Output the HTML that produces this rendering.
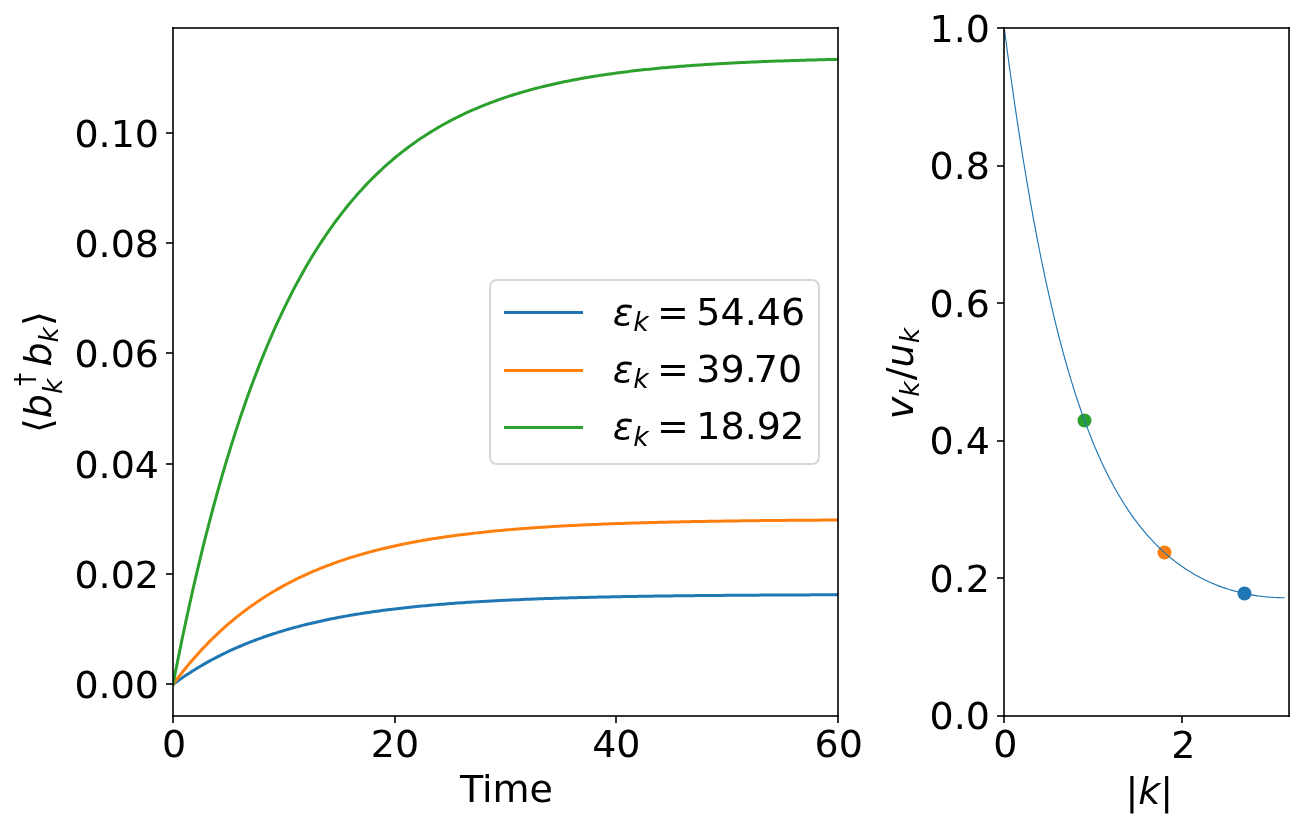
<!DOCTYPE html>
<html lang="en">
<head>
<meta charset="utf-8">
<title>Quasiparticle occupation dynamics</title>
<style>
html,body{margin:0;padding:0;background:#fff;overflow:hidden}
svg{display:block}
text{font-family:"DejaVu Sans","Liberation Sans",sans-serif;font-size:38px;fill:#000;font-kerning:normal}
.i{font-style:oblique}
.s{font-size:26.6px}
.sp{fill:none;stroke:#000;stroke-width:2;stroke-opacity:0.8;stroke-linecap:butt}
.tk{stroke:#000;stroke-width:2;stroke-opacity:0.8}
.ln{fill:none;stroke-width:3;stroke-linecap:square;stroke-linejoin:round}
</style>
</head>
<body>
<svg width="1303" height="829" viewBox="0 0 1303 829">
<rect width="1303" height="829" fill="#fff"/>
<defs><clipPath id="c1"><rect x="173" y="28" width="665" height="688"/></clipPath><clipPath id="c2"><rect x="1004" y="28" width="285" height="688"/></clipPath></defs>
<g id="axes-left">
<g clip-path="url(#c1)">
<path class="ln" stroke="#1f77b4" d="M173 684.45 L175.22 682.82 L177.43 681.22 L179.65 679.65 L181.87 678.11 L184.08 676.6 L186.3 675.11 L188.52 673.65 L190.73 672.22 L192.95 670.81 L195.17 669.43 L197.38 668.08 L199.6 666.74 L201.82 665.44 L204.03 664.15 L206.25 662.89 L208.47 661.65 L210.68 660.44 L212.9 659.25 L215.12 658.07 L217.33 656.92 L219.55 655.79 L221.77 654.68 L223.98 653.59 L226.2 652.52 L228.42 651.47 L230.63 650.44 L232.85 649.43 L235.07 648.43 L237.28 647.46 L239.5 646.5 L241.72 645.56 L243.93 644.63 L246.15 643.72 L248.37 642.83 L250.58 641.96 L252.8 641.1 L255.02 640.25 L257.23 639.43 L259.45 638.61 L261.67 637.81 L263.88 637.03 L266.1 636.26 L268.32 635.5 L270.53 634.76 L272.75 634.03 L274.97 633.31 L277.18 632.61 L279.4 631.92 L281.62 631.24 L283.83 630.58 L286.05 629.92 L288.27 629.28 L290.48 628.65 L292.7 628.03 L294.92 627.42 L297.13 626.83 L299.35 626.24 L301.57 625.66 L303.78 625.1 L306 624.54 L308.22 624 L310.43 623.46 L312.65 622.94 L314.87 622.42 L317.08 621.92 L319.3 621.42 L321.52 620.93 L323.73 620.45 L325.95 619.98 L328.17 619.52 L330.38 619.06 L332.6 618.62 L334.82 618.18 L337.03 617.75 L339.25 617.33 L341.47 616.92 L343.68 616.51 L345.9 616.11 L348.12 615.72 L350.33 615.33 L352.55 614.95 L354.77 614.58 L356.98 614.22 L359.2 613.86 L361.42 613.51 L363.63 613.16 L365.85 612.82 L368.07 612.49 L370.28 612.16 L372.5 611.84 L374.72 611.53 L376.93 611.22 L379.15 610.91 L381.37 610.61 L383.58 610.32 L385.8 610.03 L388.02 609.75 L390.23 609.47 L392.45 609.2 L394.67 608.93 L396.88 608.67 L399.1 608.41 L401.32 608.16 L403.53 607.91 L405.75 607.67 L407.97 607.43 L410.18 607.19 L412.4 606.96 L414.62 606.73 L416.83 606.51 L419.05 606.29 L421.27 606.08 L423.48 605.87 L425.7 605.66 L427.92 605.46 L430.13 605.26 L432.35 605.06 L434.57 604.87 L436.78 604.68 L439 604.49 L441.22 604.31 L443.43 604.13 L445.65 603.96 L447.87 603.78 L450.08 603.61 L452.3 603.45 L454.52 603.28 L456.73 603.12 L458.95 602.97 L461.17 602.81 L463.38 602.66 L465.6 602.51 L467.82 602.36 L470.03 602.22 L472.25 602.08 L474.47 601.94 L476.68 601.8 L478.9 601.67 L481.12 601.54 L483.33 601.41 L485.55 601.28 L487.77 601.16 L489.98 601.04 L492.2 600.92 L494.42 600.8 L496.63 600.68 L498.85 600.57 L501.07 600.46 L503.28 600.35 L505.5 600.24 L507.72 600.14 L509.93 600.03 L512.15 599.93 L514.37 599.83 L516.58 599.73 L518.8 599.64 L521.02 599.54 L523.23 599.45 L525.45 599.36 L527.67 599.27 L529.88 599.18 L532.1 599.09 L534.32 599.01 L536.53 598.93 L538.75 598.84 L540.97 598.76 L543.18 598.68 L545.4 598.61 L547.62 598.53 L549.83 598.46 L552.05 598.38 L554.27 598.31 L556.48 598.24 L558.7 598.17 L560.92 598.1 L563.13 598.04 L565.35 597.97 L567.57 597.91 L569.78 597.84 L572 597.78 L574.22 597.72 L576.43 597.66 L578.65 597.6 L580.87 597.54 L583.08 597.49 L585.3 597.43 L587.52 597.38 L589.73 597.32 L591.95 597.27 L594.17 597.22 L596.38 597.17 L598.6 597.12 L600.82 597.07 L603.03 597.02 L605.25 596.97 L607.47 596.93 L609.68 596.88 L611.9 596.84 L614.12 596.79 L616.33 596.75 L618.55 596.71 L620.77 596.66 L622.98 596.62 L625.2 596.58 L627.42 596.54 L629.63 596.51 L631.85 596.47 L634.07 596.43 L636.28 596.39 L638.5 596.36 L640.72 596.32 L642.93 596.29 L645.15 596.25 L647.37 596.22 L649.58 596.19 L651.8 596.15 L654.02 596.12 L656.23 596.09 L658.45 596.06 L660.67 596.03 L662.88 596 L665.1 595.97 L667.32 595.94 L669.53 595.92 L671.75 595.89 L673.97 595.86 L676.18 595.84 L678.4 595.81 L680.62 595.79 L682.83 595.76 L685.05 595.74 L687.27 595.71 L689.48 595.69 L691.7 595.66 L693.92 595.64 L696.13 595.62 L698.35 595.6 L700.57 595.58 L702.78 595.55 L705 595.53 L707.22 595.51 L709.43 595.49 L711.65 595.47 L713.87 595.45 L716.08 595.44 L718.3 595.42 L720.52 595.4 L722.73 595.38 L724.95 595.36 L727.17 595.35 L729.38 595.33 L731.6 595.31 L733.82 595.3 L736.03 595.28 L738.25 595.26 L740.47 595.25 L742.68 595.23 L744.9 595.22 L747.12 595.2 L749.33 595.19 L751.55 595.17 L753.77 595.16 L755.98 595.15 L758.2 595.13 L760.42 595.12 L762.63 595.11 L764.85 595.09 L767.07 595.08 L769.28 595.07 L771.5 595.06 L773.72 595.05 L775.93 595.03 L778.15 595.02 L780.37 595.01 L782.58 595 L784.8 594.99 L787.02 594.98 L789.23 594.97 L791.45 594.96 L793.67 594.95 L795.88 594.94 L798.1 594.93 L800.32 594.92 L802.53 594.91 L804.75 594.9 L806.97 594.89 L809.18 594.88 L811.4 594.87 L813.62 594.87 L815.83 594.86 L818.05 594.85 L820.27 594.84 L822.48 594.83 L824.7 594.83 L826.92 594.82 L829.13 594.81 L831.35 594.8 L833.57 594.8 L835.78 594.79 L838 594.78"/>
<path class="ln" stroke="#ff7f0e" d="M173 684.45 L175.22 681.46 L177.43 678.53 L179.65 675.65 L181.87 672.83 L184.08 670.05 L186.3 667.33 L188.52 664.65 L190.73 662.02 L192.95 659.45 L195.17 656.91 L197.38 654.43 L199.6 651.98 L201.82 649.58 L204.03 647.23 L206.25 644.92 L208.47 642.65 L210.68 640.42 L212.9 638.23 L215.12 636.08 L217.33 633.97 L219.55 631.9 L221.77 629.86 L223.98 627.86 L226.2 625.9 L228.42 623.98 L230.63 622.08 L232.85 620.23 L235.07 618.4 L237.28 616.61 L239.5 614.85 L241.72 613.13 L243.93 611.43 L246.15 609.76 L248.37 608.13 L250.58 606.52 L252.8 604.95 L255.02 603.4 L257.23 601.88 L259.45 600.39 L261.67 598.92 L263.88 597.48 L266.1 596.07 L268.32 594.68 L270.53 593.32 L272.75 591.98 L274.97 590.67 L277.18 589.38 L279.4 588.11 L281.62 586.87 L283.83 585.65 L286.05 584.45 L288.27 583.27 L290.48 582.12 L292.7 580.98 L294.92 579.87 L297.13 578.77 L299.35 577.7 L301.57 576.64 L303.78 575.61 L306 574.59 L308.22 573.59 L310.43 572.61 L312.65 571.64 L314.87 570.7 L317.08 569.77 L319.3 568.86 L321.52 567.96 L323.73 567.08 L325.95 566.22 L328.17 565.37 L330.38 564.54 L332.6 563.72 L334.82 562.92 L337.03 562.13 L339.25 561.36 L341.47 560.6 L343.68 559.85 L345.9 559.12 L348.12 558.4 L350.33 557.69 L352.55 557 L354.77 556.32 L356.98 555.65 L359.2 554.99 L361.42 554.35 L363.63 553.71 L365.85 553.09 L368.07 552.48 L370.28 551.88 L372.5 551.29 L374.72 550.71 L376.93 550.15 L379.15 549.59 L381.37 549.04 L383.58 548.5 L385.8 547.98 L388.02 547.46 L390.23 546.95 L392.45 546.45 L394.67 545.96 L396.88 545.48 L399.1 545.01 L401.32 544.54 L403.53 544.08 L405.75 543.64 L407.97 543.2 L410.18 542.77 L412.4 542.34 L414.62 541.93 L416.83 541.52 L419.05 541.12 L421.27 540.72 L423.48 540.33 L425.7 539.95 L427.92 539.58 L430.13 539.21 L432.35 538.85 L434.57 538.5 L436.78 538.15 L439 537.81 L441.22 537.48 L443.43 537.15 L445.65 536.83 L447.87 536.51 L450.08 536.2 L452.3 535.9 L454.52 535.6 L456.73 535.3 L458.95 535.01 L461.17 534.73 L463.38 534.45 L465.6 534.18 L467.82 533.91 L470.03 533.64 L472.25 533.39 L474.47 533.13 L476.68 532.88 L478.9 532.64 L481.12 532.39 L483.33 532.16 L485.55 531.93 L487.77 531.7 L489.98 531.47 L492.2 531.25 L494.42 531.04 L496.63 530.83 L498.85 530.62 L501.07 530.41 L503.28 530.21 L505.5 530.02 L507.72 529.82 L509.93 529.63 L512.15 529.45 L514.37 529.26 L516.58 529.08 L518.8 528.91 L521.02 528.73 L523.23 528.56 L525.45 528.4 L527.67 528.23 L529.88 528.07 L532.1 527.91 L534.32 527.76 L536.53 527.6 L538.75 527.45 L540.97 527.31 L543.18 527.16 L545.4 527.02 L547.62 526.88 L549.83 526.74 L552.05 526.61 L554.27 526.48 L556.48 526.35 L558.7 526.22 L560.92 526.1 L563.13 525.97 L565.35 525.85 L567.57 525.73 L569.78 525.62 L572 525.5 L574.22 525.39 L576.43 525.28 L578.65 525.17 L580.87 525.07 L583.08 524.96 L585.3 524.86 L587.52 524.76 L589.73 524.66 L591.95 524.57 L594.17 524.47 L596.38 524.38 L598.6 524.29 L600.82 524.2 L603.03 524.11 L605.25 524.02 L607.47 523.94 L609.68 523.85 L611.9 523.77 L614.12 523.69 L616.33 523.61 L618.55 523.53 L620.77 523.46 L622.98 523.38 L625.2 523.31 L627.42 523.24 L629.63 523.17 L631.85 523.1 L634.07 523.03 L636.28 522.96 L638.5 522.89 L640.72 522.83 L642.93 522.77 L645.15 522.7 L647.37 522.64 L649.58 522.58 L651.8 522.52 L654.02 522.46 L656.23 522.41 L658.45 522.35 L660.67 522.3 L662.88 522.24 L665.1 522.19 L667.32 522.14 L669.53 522.09 L671.75 522.04 L673.97 521.99 L676.18 521.94 L678.4 521.89 L680.62 521.84 L682.83 521.8 L685.05 521.75 L687.27 521.71 L689.48 521.67 L691.7 521.62 L693.92 521.58 L696.13 521.54 L698.35 521.5 L700.57 521.46 L702.78 521.42 L705 521.38 L707.22 521.35 L709.43 521.31 L711.65 521.27 L713.87 521.24 L716.08 521.2 L718.3 521.17 L720.52 521.14 L722.73 521.1 L724.95 521.07 L727.17 521.04 L729.38 521.01 L731.6 520.98 L733.82 520.95 L736.03 520.92 L738.25 520.89 L740.47 520.86 L742.68 520.83 L744.9 520.8 L747.12 520.78 L749.33 520.75 L751.55 520.72 L753.77 520.7 L755.98 520.67 L758.2 520.65 L760.42 520.62 L762.63 520.6 L764.85 520.58 L767.07 520.55 L769.28 520.53 L771.5 520.51 L773.72 520.49 L775.93 520.47 L778.15 520.45 L780.37 520.43 L782.58 520.41 L784.8 520.39 L787.02 520.37 L789.23 520.35 L791.45 520.33 L793.67 520.31 L795.88 520.29 L798.1 520.27 L800.32 520.26 L802.53 520.24 L804.75 520.22 L806.97 520.21 L809.18 520.19 L811.4 520.17 L813.62 520.16 L815.83 520.14 L818.05 520.13 L820.27 520.11 L822.48 520.1 L824.7 520.08 L826.92 520.07 L829.13 520.06 L831.35 520.04 L833.57 520.03 L835.78 520.02 L838 520"/>
<path class="ln" stroke="#2ca02c" d="M173 684.45 L175.22 673.1 L177.43 661.96 L179.65 651.02 L181.87 640.28 L184.08 629.73 L186.3 619.37 L188.52 609.2 L190.73 599.22 L192.95 589.41 L195.17 579.78 L197.38 570.33 L199.6 561.05 L201.82 551.93 L204.03 542.98 L206.25 534.19 L208.47 525.56 L210.68 517.09 L212.9 508.76 L215.12 500.59 L217.33 492.57 L219.55 484.69 L221.77 476.96 L223.98 469.36 L226.2 461.9 L228.42 454.58 L230.63 447.39 L232.85 440.33 L235.07 433.39 L237.28 426.59 L239.5 419.9 L241.72 413.34 L243.93 406.89 L246.15 400.56 L248.37 394.35 L250.58 388.24 L252.8 382.25 L255.02 376.37 L257.23 370.59 L259.45 364.92 L261.67 359.35 L263.88 353.88 L266.1 348.5 L268.32 343.23 L270.53 338.05 L272.75 332.97 L274.97 327.97 L277.18 323.07 L279.4 318.26 L281.62 313.53 L283.83 308.89 L286.05 304.33 L288.27 299.85 L290.48 295.46 L292.7 291.14 L294.92 286.91 L297.13 282.75 L299.35 278.66 L301.57 274.65 L303.78 270.71 L306 266.84 L308.22 263.04 L310.43 259.32 L312.65 255.65 L314.87 252.06 L317.08 248.53 L319.3 245.06 L321.52 241.66 L323.73 238.31 L325.95 235.03 L328.17 231.81 L330.38 228.64 L332.6 225.54 L334.82 222.48 L337.03 219.49 L339.25 216.55 L341.47 213.66 L343.68 210.82 L345.9 208.04 L348.12 205.3 L350.33 202.61 L352.55 199.98 L354.77 197.39 L356.98 194.85 L359.2 192.35 L361.42 189.9 L363.63 187.49 L365.85 185.13 L368.07 182.81 L370.28 180.53 L372.5 178.29 L374.72 176.09 L376.93 173.93 L379.15 171.81 L381.37 169.73 L383.58 167.69 L385.8 165.69 L388.02 163.72 L390.23 161.78 L392.45 159.88 L394.67 158.02 L396.88 156.19 L399.1 154.39 L401.32 152.62 L403.53 150.89 L405.75 149.19 L407.97 147.52 L410.18 145.88 L412.4 144.26 L414.62 142.68 L416.83 141.13 L419.05 139.6 L421.27 138.1 L423.48 136.63 L425.7 135.19 L427.92 133.77 L430.13 132.38 L432.35 131.01 L434.57 129.67 L436.78 128.35 L439 127.05 L441.22 125.78 L443.43 124.53 L445.65 123.31 L447.87 122.1 L450.08 120.92 L452.3 119.76 L454.52 118.62 L456.73 117.5 L458.95 116.41 L461.17 115.33 L463.38 114.27 L465.6 113.23 L467.82 112.21 L470.03 111.2 L472.25 110.22 L474.47 109.25 L476.68 108.3 L478.9 107.37 L481.12 106.45 L483.33 105.55 L485.55 104.67 L487.77 103.8 L489.98 102.95 L492.2 102.12 L494.42 101.3 L496.63 100.49 L498.85 99.7 L501.07 98.92 L503.28 98.16 L505.5 97.41 L507.72 96.68 L509.93 95.95 L512.15 95.24 L514.37 94.55 L516.58 93.86 L518.8 93.19 L521.02 92.53 L523.23 91.89 L525.45 91.25 L527.67 90.63 L529.88 90.01 L532.1 89.41 L534.32 88.82 L536.53 88.24 L538.75 87.67 L540.97 87.11 L543.18 86.56 L545.4 86.02 L547.62 85.49 L549.83 84.97 L552.05 84.46 L554.27 83.96 L556.48 83.47 L558.7 82.98 L560.92 82.51 L563.13 82.04 L565.35 81.59 L567.57 81.14 L569.78 80.69 L572 80.26 L574.22 79.84 L576.43 79.42 L578.65 79.01 L580.87 78.6 L583.08 78.21 L585.3 77.82 L587.52 77.44 L589.73 77.06 L591.95 76.7 L594.17 76.34 L596.38 75.98 L598.6 75.63 L600.82 75.29 L603.03 74.96 L605.25 74.63 L607.47 74.3 L609.68 73.98 L611.9 73.67 L614.12 73.37 L616.33 73.06 L618.55 72.77 L620.77 72.48 L622.98 72.19 L625.2 71.91 L627.42 71.64 L629.63 71.37 L631.85 71.1 L634.07 70.84 L636.28 70.59 L638.5 70.34 L640.72 70.09 L642.93 69.85 L645.15 69.61 L647.37 69.38 L649.58 69.15 L651.8 68.93 L654.02 68.71 L656.23 68.49 L658.45 68.28 L660.67 68.07 L662.88 67.86 L665.1 67.66 L667.32 67.46 L669.53 67.27 L671.75 67.08 L673.97 66.89 L676.18 66.71 L678.4 66.53 L680.62 66.35 L682.83 66.17 L685.05 66 L687.27 65.84 L689.48 65.67 L691.7 65.51 L693.92 65.35 L696.13 65.19 L698.35 65.04 L700.57 64.89 L702.78 64.74 L705 64.6 L707.22 64.46 L709.43 64.32 L711.65 64.18 L713.87 64.04 L716.08 63.91 L718.3 63.78 L720.52 63.65 L722.73 63.53 L724.95 63.4 L727.17 63.28 L729.38 63.16 L731.6 63.05 L733.82 62.93 L736.03 62.82 L738.25 62.71 L740.47 62.6 L742.68 62.5 L744.9 62.39 L747.12 62.29 L749.33 62.19 L751.55 62.09 L753.77 61.99 L755.98 61.9 L758.2 61.8 L760.42 61.71 L762.63 61.62 L764.85 61.53 L767.07 61.45 L769.28 61.36 L771.5 61.28 L773.72 61.19 L775.93 61.11 L778.15 61.03 L780.37 60.96 L782.58 60.88 L784.8 60.8 L787.02 60.73 L789.23 60.66 L791.45 60.59 L793.67 60.52 L795.88 60.45 L798.1 60.38 L800.32 60.31 L802.53 60.25 L804.75 60.18 L806.97 60.12 L809.18 60.06 L811.4 60 L813.62 59.94 L815.83 59.88 L818.05 59.83 L820.27 59.77 L822.48 59.71 L824.7 59.66 L826.92 59.61 L829.13 59.55 L831.35 59.5 L833.57 59.45 L835.78 59.4 L838 59.35"/>
</g>
<line class="tk" x1="173" y1="716" x2="173" y2="723"/><text x="174" y="756.87" text-anchor="middle">0</text>
<line class="tk" x1="395" y1="716" x2="395" y2="723"/><text x="394.97" y="756.87" text-anchor="middle">20</text>
<line class="tk" x1="616" y1="716" x2="616" y2="723"/><text x="616.33" y="756.87" text-anchor="middle">40</text>
<line class="tk" x1="838" y1="716" x2="838" y2="723"/><text x="838.8" y="756.87" text-anchor="middle">60</text>
<line class="tk" x1="166" y1="684" x2="173" y2="684"/><text x="159" y="698" text-anchor="end">0.00</text>
<line class="tk" x1="166" y1="574" x2="173" y2="574"/><text x="159" y="588" text-anchor="end">0.02</text>
<line class="tk" x1="166" y1="464" x2="173" y2="464"/><text x="159" y="478" text-anchor="end">0.04</text>
<line class="tk" x1="166" y1="353" x2="173" y2="353"/><text x="159" y="367" text-anchor="end">0.06</text>
<line class="tk" x1="166" y1="243" x2="173" y2="243"/><text x="159" y="257" text-anchor="end">0.08</text>
<line class="tk" x1="166" y1="133" x2="173" y2="133"/><text x="159" y="147" text-anchor="end">0.10</text>
<path class="sp" d="M173 717V27"/><path class="sp" d="M838 717V27"/><path class="sp" d="M172 716H839"/><path class="sp" d="M172 28H839"/>
<text x="506.4" y="801.65" text-anchor="middle">Time</text>
<g transform="translate(52.85 432.99) rotate(-90)"><text><tspan x="0" y="-1.49">⟨</tspan><tspan class="i" x="14.83" y="-1.49">b</tspan><tspan class="i s" x="38.95" y="8.9">k</tspan><tspan class="s" x="46.96" y="-18.62">†</tspan><tspan class="i" x="66.48" y="-1.49">b</tspan><tspan class="i s" x="90.6" y="4.75">k</tspan><tspan x="107.04" y="-1.49">⟩</tspan></text></g>
<g id="legend">
<path d="M497.6 464H811.4Q819 464 819 456.4V287.6Q819 280 811.4 280H497.6Q490 280 490 287.6V456.4Q490 464 497.6 464Z" fill="#fff" fill-opacity="0.8" stroke="#ccc" stroke-opacity="0.8" stroke-width="2"/>
<path class="ln" style="stroke-linecap:butt" stroke="#1f77b4" d="M504 312.5H583"/>
<g transform="translate(612.7 326.71)"><text><tspan class="i" x="0" y="-1.78">ε</tspan><tspan class="i s" x="20.54" y="4.45">k</tspan><tspan x="44.39" y="-1.78">=</tspan><tspan x="83.63 107.81 131.98 144.06 168.24" y="-1.78">54.46</tspan></text></g>
<path class="ln" style="stroke-linecap:butt" stroke="#ff7f0e" d="M504 370.5H583"/>
<g transform="translate(612.7 383.49)"><text><tspan class="i" x="0" y="-1.78">ε</tspan><tspan class="i s" x="20.54" y="4.45">k</tspan><tspan x="44.39" y="-1.78">=</tspan><tspan x="83.63 107.81 131.98 141.06 165.24" y="-1.78">39.70</tspan></text></g>
<path class="ln" style="stroke-linecap:butt" stroke="#2ca02c" d="M504 427.5H583"/>
<g transform="translate(612.7 441.26)"><text><tspan class="i" x="0" y="-1.78">ε</tspan><tspan class="i s" x="20.54" y="4.45">k</tspan><tspan x="44.39" y="-1.78">=</tspan><tspan x="83.63 107.81 131.98 144.06 167.49" y="-1.78">18.92</tspan></text></g>
</g>
</g>
<g id="axes-right">
<g clip-path="url(#c2)">
<circle cx="1244.5" cy="593.5" r="6" fill="#1f77b4" stroke="#1f77b4" stroke-width="2"/>
<circle cx="1164.5" cy="552.5" r="6" fill="#ff7f0e" stroke="#ff7f0e" stroke-width="2"/>
<circle cx="1084.5" cy="420.5" r="6" fill="#2ca02c" stroke="#2ca02c" stroke-width="2"/>
<path class="ln" style="stroke-width:1.15" stroke="#1f77b4" d="M1004.27 28.1 L1005.68 38.87 L1007.08 49.47 L1008.49 59.9 L1009.89 70.16 L1011.3 80.26 L1012.71 90.2 L1014.11 99.97 L1015.52 109.58 L1016.92 119.03 L1018.33 128.32 L1019.74 137.46 L1021.14 146.45 L1022.55 155.28 L1023.95 163.96 L1025.36 172.49 L1026.77 180.87 L1028.17 189.11 L1029.58 197.2 L1030.98 205.15 L1032.39 212.97 L1033.8 220.64 L1035.2 228.18 L1036.61 235.58 L1038.01 242.85 L1039.42 249.99 L1040.83 257 L1042.23 263.89 L1043.64 270.64 L1045.04 277.28 L1046.45 283.79 L1047.86 290.18 L1049.26 296.46 L1050.67 302.62 L1052.07 308.67 L1053.48 314.6 L1054.89 320.42 L1056.29 326.13 L1057.7 331.74 L1059.1 337.24 L1060.51 342.64 L1061.92 347.94 L1063.32 353.13 L1064.73 358.23 L1066.13 363.23 L1067.54 368.14 L1068.95 372.95 L1070.35 377.67 L1071.76 382.3 L1073.17 386.84 L1074.57 391.3 L1075.98 395.67 L1077.38 399.95 L1078.79 404.16 L1080.2 408.28 L1081.6 412.33 L1083.01 416.29 L1084.41 420.18 L1085.82 424 L1087.23 427.74 L1088.63 431.41 L1090.04 435.01 L1091.44 438.54 L1092.85 442 L1094.26 445.39 L1095.66 448.72 L1097.07 451.99 L1098.47 455.19 L1099.88 458.33 L1101.29 461.41 L1102.69 464.42 L1104.1 467.39 L1105.5 470.29 L1106.91 473.14 L1108.32 475.93 L1109.72 478.67 L1111.13 481.35 L1112.53 483.99 L1113.94 486.57 L1115.35 489.1 L1116.75 491.58 L1118.16 494.02 L1119.56 496.41 L1120.97 498.75 L1122.38 501.05 L1123.78 503.3 L1125.19 505.51 L1126.59 507.67 L1128 509.8 L1129.41 511.88 L1130.81 513.92 L1132.22 515.93 L1133.62 517.89 L1135.03 519.82 L1136.44 521.71 L1137.84 523.56 L1139.25 525.37 L1140.65 527.16 L1142.06 528.9 L1143.47 530.61 L1144.87 532.29 L1146.28 533.94 L1147.68 535.55 L1149.09 537.14 L1150.5 538.69 L1151.9 540.21 L1153.31 541.7 L1154.71 543.17 L1156.12 544.6 L1157.53 546.01 L1158.93 547.39 L1160.34 548.74 L1161.74 550.06 L1163.15 551.36 L1164.56 552.63 L1165.96 553.88 L1167.37 555.1 L1168.77 556.3 L1170.18 557.48 L1171.59 558.63 L1172.99 559.75 L1174.4 560.86 L1175.8 561.94 L1177.21 563 L1178.62 564.04 L1180.02 565.06 L1181.43 566.06 L1182.83 567.03 L1184.24 567.99 L1185.65 568.92 L1187.05 569.84 L1188.46 570.74 L1189.86 571.61 L1191.27 572.47 L1192.68 573.31 L1194.08 574.14 L1195.49 574.94 L1196.89 575.73 L1198.3 576.5 L1199.71 577.25 L1201.11 577.99 L1202.52 578.71 L1203.92 579.41 L1205.33 580.1 L1206.74 580.77 L1208.14 581.43 L1209.55 582.07 L1210.96 582.69 L1212.36 583.3 L1213.77 583.9 L1215.17 584.48 L1216.58 585.05 L1217.99 585.6 L1219.39 586.13 L1220.8 586.66 L1222.2 587.17 L1223.61 587.66 L1225.02 588.15 L1226.42 588.62 L1227.83 589.07 L1229.23 589.52 L1230.64 589.95 L1232.05 590.37 L1233.45 590.77 L1234.86 591.16 L1236.26 591.54 L1237.67 591.91 L1239.08 592.27 L1240.48 592.61 L1241.89 592.94 L1243.29 593.26 L1244.7 593.57 L1246.11 593.87 L1247.51 594.15 L1248.92 594.43 L1250.32 594.69 L1251.73 594.94 L1253.14 595.18 L1254.54 595.41 L1255.95 595.63 L1257.35 595.83 L1258.76 596.03 L1260.17 596.21 L1261.57 596.39 L1262.98 596.55 L1264.38 596.7 L1265.79 596.84 L1267.2 596.98 L1268.6 597.1 L1270.01 597.21 L1271.41 597.3 L1272.82 597.39 L1274.23 597.47 L1275.63 597.54 L1277.04 597.6 L1278.44 597.64 L1279.85 597.68 L1281.26 597.71 L1282.66 597.72 L1284.07 597.73"/>
</g>
<line class="tk" x1="1004" y1="716" x2="1004" y2="723"/><text x="1005.27" y="756.87" text-anchor="middle">0</text>
<line class="tk" x1="1182" y1="716" x2="1182" y2="723"/><text x="1183.39" y="757.87" text-anchor="middle">2</text>
<line class="tk" x1="997" y1="716" x2="1004" y2="716"/><text x="990" y="729.14" text-anchor="end">0.0</text>
<line class="tk" x1="997" y1="578" x2="1004" y2="578"/><text x="990" y="591.62" text-anchor="end">0.2</text>
<line class="tk" x1="997" y1="441" x2="1004" y2="441"/><text x="990" y="454.1" text-anchor="end">0.4</text>
<line class="tk" x1="997" y1="303" x2="1004" y2="303"/><text x="990" y="316.58" text-anchor="end">0.6</text>
<line class="tk" x1="997" y1="166" x2="1004" y2="166"/><text x="990" y="179.06" text-anchor="end">0.8</text>
<line class="tk" x1="997" y1="28" x2="1004" y2="28"/><text x="990" y="41.54" text-anchor="end">1.0</text>
<path class="sp" d="M1004 717V27"/><path class="sp" d="M1289 717V27"/><path class="sp" d="M1003 716H1290"/><path class="sp" d="M1003 28H1290"/>
<g transform="translate(1125.4 805.04)"><text><tspan x="0" y="-0.97">|</tspan><tspan class="i" x="12.8" y="-0.97">k</tspan><tspan x="34.81" y="-0.97">|</tspan></text></g>
<g transform="translate(912.87 419.17) rotate(-90)"><text><tspan class="i" x="0" y="-0.31">v</tspan><tspan class="i s" x="22.49" y="5.92">k</tspan><tspan x="38.93" y="-0.31">/</tspan><tspan class="i" x="51.73" y="-0.31">u</tspan><tspan class="i s" x="75.82" y="5.92">k</tspan></text></g>
</g>
</svg>
</body>
</html>
